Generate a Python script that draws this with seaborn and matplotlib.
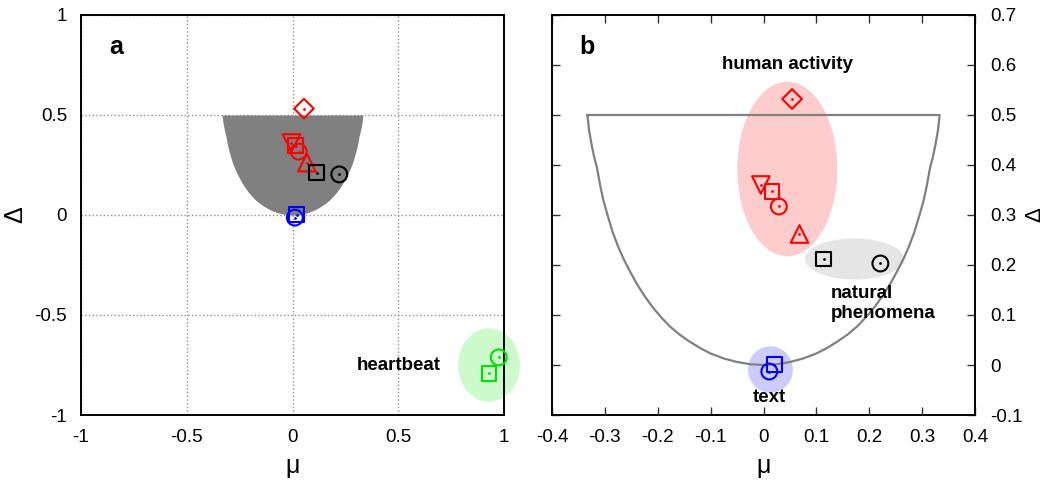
import matplotlib
matplotlib.use('Agg')
import matplotlib.pyplot as plt
from matplotlib.patches import Ellipse
import seaborn as sns

# boundary of the allowed (mu, delta) region
bound_mu = [-0.333, -0.330, -0.325, -0.320, -0.315, -0.309, -0.303, -0.295, -0.285, -0.275, -0.265,
            -0.253, -0.24, -0.225, -0.21, -0.194, -0.177, -0.159, -0.14, -0.12, -0.10, -0.075, -0.05,
            -0.025, 0.0,
            0.025, 0.05, 0.075, 0.10, 0.12, 0.14, 0.159, 0.177, 0.194, 0.21, 0.225, 0.24, 0.253,
            0.265, 0.275, 0.285, 0.295, 0.303, 0.309, 0.315, 0.320, 0.325, 0.330, 0.333]
bound_delta = [0.5, 0.47, 0.44, 0.415, 0.395, 0.36, 0.33, 0.30, 0.265, 0.237, 0.213,
               0.188, 0.163, 0.138, 0.116, 0.096, 0.077, 0.061, 0.047, 0.034, 0.023, 0.013, 0.006,
               0.0015, 0.0,
               0.0015, 0.006, 0.013, 0.023, 0.034, 0.047, 0.061, 0.077, 0.096, 0.116, 0.138, 0.163, 0.188,
               0.213, 0.237, 0.265, 0.30, 0.33, 0.36, 0.395, 0.415, 0.44, 0.47, 0.5]

# human activity
red_mu = [0.054, -0.005, 0.016, 0.029, 0.068]
red_delta = [0.532, 0.36, 0.347, 0.317, 0.262]
red_markers = ['D', 'v', 's', 'o', '^']
# natural phenomena
black_mu = [0.114, 0.221]
black_delta = [0.212, 0.203]
black_markers = ['s', 'o']
# text
blue_mu = [0.020, 0.011]
blue_delta = [0.001, -0.013]
blue_markers = ['s', 'o']
# heartbeat
green_mu = [0.929, 0.975]
green_delta = [-0.792, -0.712]
green_markers = ['s', 'o']

# group highlight ellipses: center, width, height
grp_names = ['human activity', 'natural\nphenomena', 'text', 'heartbeat']
grp_center = [(0.045, 0.392), (0.172, 0.212), (0.013, -0.009), (0.929, -0.75)]
grp_size = [(0.189, 0.349), (0.187, 0.082), (0.085, 0.093), (0.292, 0.367)]
grp_fill = ['#fdcccc', '#e5e5e5', '#ccccfa', '#ccfacc']

sizes = {'s': 115, 'o': 130, 'v': 160, '^': 160, 'D': 100}

sns.set_style('white')
plt.rcParams['font.family'] = ['Liberation Sans', 'DejaVu Sans']
plt.rcParams['font.size'] = 13.5
plt.rcParams['text.color'] = 'black'
plt.rcParams['axes.labelcolor'] = 'black'
plt.rcParams['xtick.color'] = 'black'
plt.rcParams['ytick.color'] = 'black'


def draw_points(ax, mus, deltas, markers, color):
    for x, y, m in zip(mus, deltas, markers):
        sns.scatterplot(x=[x], y=[y], marker=m, s=sizes[m], color=color, facecolor='none',
                        edgecolor=color, linewidth=1.5, ax=ax, zorder=5, clip_on=False)
    sns.scatterplot(x=mus, y=deltas, marker='o', s=4, color=color, linewidth=0, ax=ax, zorder=6,
                    clip_on=False)


def add_ellipse(ax, i):
    ax.add_patch(Ellipse(grp_center[i], grp_size[i][0], grp_size[i][1],
                         facecolor=grp_fill[i], edgecolor='none', zorder=1, clip_on=False))


fig = plt.figure(figsize=(10.49, 4.82), dpi=100)
ax1 = fig.add_axes([0.0772, 0.139, 0.4033, 0.8299])
ax2 = fig.add_axes([0.5262, 0.139, 0.4033, 0.8299])

# ---- panel a
ax1.fill_between(bound_mu, bound_delta, 0.5, color='#808080', lw=0, zorder=2)
add_ellipse(ax1, 3)
draw_points(ax1, red_mu, red_delta, red_markers, 'red')
draw_points(ax1, black_mu, black_delta, black_markers, 'black')
draw_points(ax1, blue_mu, blue_delta, blue_markers, 'blue')
draw_points(ax1, green_mu, green_delta, green_markers, '#00e000')
ax1.set_xlim(-1, 1)
ax1.set_ylim(-1, 1)
ticks_a = [-1, -0.5, 0, 0.5, 1]
labels_a = ['-1', '-0.5', '0', '0.5', '1']
ax1.set_xticks(ticks_a, labels_a)
ax1.set_yticks(ticks_a, labels_a)
ax1.tick_params(length=0, pad=10, labelsize=13.5)
ax1.grid(True, linestyle=':', color='#909090', lw=1, zorder=0)
ax1.set_axisbelow(True)
ax1.set_xlabel('μ', fontsize=18, labelpad=6)
ax1.set_ylabel('Δ', fontsize=18, labelpad=5)
ax1.text(0.083, 0.92, 'a', transform=ax1.transAxes, fontsize=18, fontweight='bold',
         ha='center', va='center')
ax1.text(0.70, -0.75, 'heartbeat', fontsize=13.5, fontweight='bold', ha='right', va='center')

# ---- panel b
for i in range(3):
    add_ellipse(ax2, i)
sns.lineplot(x=bound_mu + [bound_mu[0]], y=bound_delta + [bound_delta[0]], sort=False,
             estimator=None, color='#808080', lw=1.6, ax=ax2, zorder=2)
draw_points(ax2, red_mu, red_delta, red_markers, 'red')
draw_points(ax2, black_mu, black_delta, black_markers, 'black')
draw_points(ax2, blue_mu, blue_delta, blue_markers, 'blue')
ax2.set_xlim(-0.4, 0.4)
ax2.set_ylim(-0.1, 0.7)
xt = [-0.4, -0.3, -0.2, -0.1, 0, 0.1, 0.2, 0.3, 0.4]
ax2.set_xticks(xt, ['-0.4', '-0.3', '-0.2', '-0.1', '0', '0.1', '0.2', '0.3', '0.4'])
yt = [-0.1, 0, 0.1, 0.2, 0.3, 0.4, 0.5, 0.6, 0.7]
ax2.set_yticks(yt, ['-0.1', '0', '0.1', '0.2', '0.3', '0.4', '0.5', '0.6', '0.7'])
ax2.yaxis.tick_right()
ax2.yaxis.set_label_position('right')
ax2.tick_params(direction='in', length=6, width=1, top=True, bottom=True, left=True, right=True,
                labelleft=False, labelright=True, labelsize=13.5, color='#333333')
ax2.tick_params(axis='x', pad=10)
ax2.tick_params(axis='y', pad=11)
ax2.set_xlabel('μ', fontsize=18, labelpad=6)
ax2.set_ylabel('Δ', fontsize=16, labelpad=1)
ax2.text(0.083, 0.92, 'b', transform=ax2.transAxes, fontsize=18, fontweight='bold',
         ha='center', va='center')
ax2.text(0.045, 0.6, 'human activity', fontsize=13.5, fontweight='bold', ha='center', va='center')
ax2.text(0.128, 0.123, 'natural\nphenomena', fontsize=13.5, fontweight='bold', ha='left',
         va='center', linespacing=1.3)
ax2.text(0.011, -0.065, 'text', fontsize=13.5, fontweight='bold', ha='center', va='center')

for ax in (ax1, ax2):
    for sp in ax.spines.values():
        sp.set_visible(True)
        sp.set_color('black')
        sp.set_linewidth(1.4)

fig.savefig('out.png', dpi=100)
